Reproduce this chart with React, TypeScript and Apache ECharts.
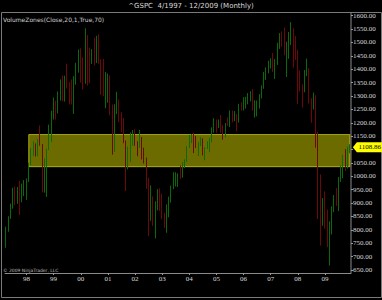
import React, { useEffect, useRef } from "react";
import * as echarts from "echarts";

const firstYear = 1997;
const firstMonth = 4;
const monthCount = 153;
const categories: string[] = [];
for (let i = 0; i < monthCount; i++) {
  const m = firstMonth - 1 + i;
  const y = firstYear + Math.floor(m / 12);
  const mm = (m % 12) + 1;
  categories.push(`${y}-${mm < 10 ? "0" + mm : mm}`);
}

const opens = [
  757, 801, 848, 885, 954, 899, 947, 915, 955,
  970, 980, 1049, 1102, 1112, 1091, 1134, 1121, 957, 1017, 1099, 1164,
  1229, 1280, 1238, 1286, 1335, 1302, 1373, 1329, 1320, 1283, 1363, 1389,
  1469, 1394, 1366, 1499, 1452, 1421, 1455, 1431, 1518, 1437, 1429, 1315,
  1320, 1366, 1240, 1160, 1249, 1256, 1224, 1211, 1134, 1041, 1060, 1139,
  1148, 1130, 1107, 1147, 1077, 1067, 990, 912, 916, 815, 886, 936,
  880, 856, 841, 848, 917, 964, 975, 990, 1008, 996, 1051, 1058,
  1112, 1131, 1145, 1126, 1107, 1121, 1141, 1102, 1104, 1115, 1130, 1174,
  1212, 1181, 1204, 1181, 1157, 1192, 1191, 1234, 1220, 1229, 1207, 1249,
  1248, 1280, 1281, 1295, 1311, 1270, 1270, 1277, 1304, 1336, 1378, 1401,
  1418, 1438, 1407, 1421, 1482, 1531, 1503, 1455, 1474, 1527, 1549, 1481,
  1468, 1379, 1331, 1323, 1386, 1400, 1280, 1267, 1283, 1166, 969, 896,
  903, 826, 735, 798, 873, 923, 919, 987, 1021, 1057, 1036, 1096,
];
const highs = [
  812, 851, 898, 957, 961, 960, 983, 973, 986,
  992, 1051, 1106, 1131, 1123, 1139, 1190, 1121, 1066, 1103, 1193, 1245,
  1294, 1283, 1317, 1362, 1376, 1376, 1421, 1352, 1362, 1374, 1424, 1474,
  1478, 1445, 1553, 1528, 1481, 1475, 1518, 1525, 1531, 1437, 1438, 1390,
  1384, 1377, 1268, 1269, 1316, 1287, 1240, 1218, 1134, 1111, 1164, 1173,
  1176, 1131, 1173, 1147, 1107, 1070, 994, 966, 925, 907, 952, 955,
  935, 864, 895, 924, 965, 1015, 1015, 1011, 1040, 1053, 1063, 1112,
  1155, 1158, 1163, 1151, 1128, 1146, 1142, 1109, 1131, 1143, 1183, 1217,
  1212, 1212, 1229, 1192, 1199, 1220, 1246, 1246, 1244, 1233, 1271, 1276,
  1295, 1297, 1311, 1318, 1326, 1284, 1283, 1307, 1340, 1390, 1407, 1432,
  1441, 1461, 1438, 1499, 1535, 1541, 1556, 1503, 1539, 1576, 1553, 1524,
  1472, 1396, 1344, 1397, 1440, 1404, 1292, 1313, 1303, 1167, 1007, 919,
  944, 876, 832, 888, 930, 956, 997, 1040, 1080, 1101, 1111, 1120,
];
const lows = [
  733, 793, 841, 879, 893, 897, 855, 903, 926,
  912, 979, 1042, 1076, 1074, 1075, 1114, 940, 939, 923, 1098, 1129,
  1212, 1212, 1235, 1283, 1281, 1279, 1328, 1268, 1268, 1233, 1342, 1387,
  1350, 1325, 1346, 1339, 1348, 1420, 1415, 1423, 1420, 1305, 1299, 1254,
  1275, 1228, 1081, 1091, 1232, 1203, 1165, 1124, 945, 1026, 1054, 1114,
  1114, 1075, 1106, 1063, 1048, 953, 776, 834, 815, 768, 873, 871,
  840, 807, 789, 847, 902, 952, 962, 960, 990, 995, 1031, 1054,
  1106, 1124, 1087, 1106, 1076, 1113, 1078, 1060, 1102, 1090, 1127, 1163,
  1163, 1180, 1163, 1137, 1146, 1188, 1184, 1202, 1206, 1168, 1201, 1246,
  1246, 1253, 1269, 1280, 1245, 1219, 1224, 1253, 1291, 1327, 1360, 1385,
  1403, 1390, 1364, 1416, 1476, 1484, 1452, 1371, 1439, 1490, 1406, 1435,
  1270, 1317, 1257, 1314, 1374, 1272, 1200, 1249, 1107, 840, 741, 815,
  805, 735, 667, 783, 866, 889, 870, 979, 993, 1020, 1029, 1086,
];
const closes = [
  801, 848, 885, 954, 899, 947, 915, 955, 970,
  980, 1049, 1102, 1112, 1091, 1134, 1121, 957, 1017, 1099, 1164, 1229,
  1280, 1238, 1286, 1335, 1302, 1373, 1329, 1320, 1283, 1363, 1389, 1469,
  1394, 1366, 1499, 1452, 1421, 1455, 1431, 1518, 1437, 1429, 1315, 1320,
  1366, 1240, 1160, 1249, 1256, 1224, 1211, 1134, 1041, 1060, 1139, 1148,
  1130, 1107, 1147, 1077, 1067, 990, 912, 916, 815, 886, 936, 880,
  856, 841, 848, 917, 964, 975, 990, 1008, 996, 1051, 1058, 1112,
  1131, 1145, 1126, 1107, 1121, 1141, 1102, 1104, 1115, 1130, 1174, 1212,
  1181, 1204, 1181, 1157, 1192, 1191, 1234, 1220, 1229, 1207, 1249, 1248,
  1280, 1281, 1295, 1311, 1270, 1270, 1277, 1304, 1336, 1378, 1401, 1418,
  1438, 1407, 1421, 1482, 1531, 1503, 1455, 1474, 1527, 1549, 1481, 1468,
  1379, 1331, 1323, 1386, 1400, 1280, 1267, 1283, 1166, 969, 896, 903,
  826, 735, 798, 873, 919, 919, 987, 1021, 1057, 1036, 1096, 1108.86,
];

const zoneLow = 1036;
const zoneHigh = 1156;
const zoneStart = "1998-02";
const yMin = 650;
const yMax = 1600;
const yStep = 50;
const titleText = "^GSPC  4/1997 - 12/2009 (Monthly)";
const indicatorText = "VolumeZones(Close,20,1,True,70)";
const copyrightText = "\u00a9 2009 NinjaTrader, LLC";

export default function App() {
  const ref = useRef<HTMLDivElement>(null);
  useEffect(() => {
    if (!ref.current) return;
    const chart = echarts.init(ref.current, null, { renderer: "svg" });
    const candles = categories.map((_, i) => [opens[i], closes[i], lows[i], highs[i]]);
    const lastIdx = categories.length - 1;
    const lastClose = closes[lastIdx];
    const fontFamily = "'Liberation Serif', serif";
    chart.setOption({
      animation: false,
      backgroundColor: "#000000",
      grid: { left: 5, right: 31, top: 15.7, bottom: 30 },
      xAxis: {
        type: "category",
        data: categories,
        boundaryGap: true,
        offset: 3,
        axisLine: { show: true, lineStyle: { color: "#8a8a8a", width: 1 } },
        axisTick: {
          show: true,
          alignWithLabel: true,
          length: 2,
          interval: (_i: number, v: string) => v.endsWith("-01"),
          lineStyle: { color: "#9a9a9a" },
        },
        axisLabel: {
          interval: (_i: number, v: string) => v.endsWith("-01"),
          formatter: (v: string) => v.slice(2, 4),
          color: "#d8d8d8",
          fontSize: 7,
          margin: 2,
          fontFamily,
        },
        splitLine: { show: false },
      },
      yAxis: {
        type: "value",
        position: "right",
        min: yMin,
        max: yMax,
        interval: yStep,
        scale: false,
        axisLine: { show: false },
        axisTick: { show: true, length: 2, lineStyle: { color: "#9a9a9a" } },
        axisLabel: {
          color: "#d8d8d8",
          fontSize: 7,
          margin: 2,
          fontFamily,
          formatter: (v: number) => (Math.abs(v - lastClose) < 12 ? "" : v.toFixed(2)),
        },
        splitLine: { show: false },
      },
      series: [
        {
          type: "candlestick",
          data: candles,
          barWidth: 1,
          z: 2,
          itemStyle: {
            color: "#0e800e",
            color0: "#860a0a",
            borderColor: "#0a6a0a",
            borderColor0: "#6e0707",
            borderWidth: 1,
          },
          markPoint: {
            symbol: "path://M0,5 L4,0 L30,0 L30,10 L4,10 Z",
            symbolSize: [30, 10],
            symbolKeepAspect: false,
            symbolOffset: [18, 0],
            itemStyle: { color: "#ffff00" },
            label: {
              show: true,
              position: "inside",
              offset: [2, 0],
              color: "#000000",
              fontSize: 7,
              fontFamily,
              formatter: () => lastClose.toFixed(2),
            },
            data: [{ coord: [categories[lastIdx], lastClose] }],
          },
        },
        {
          type: "line",
          data: [],
          z: 5,
          markArea: {
            silent: true,
            itemStyle: {
              color: "rgba(255,255,0,0.42)",
              borderColor: "rgba(255,255,40,0.55)",
              borderWidth: 1,
            },
            data: [
              [
                { xAxis: zoneStart, yAxis: zoneHigh },
                { xAxis: categories[lastIdx], yAxis: zoneLow },
              ],
            ],
          },
        },
      ],
      graphic: [
        {
          type: "rect",
          shape: { x: 1.5, y: 12.5, width: 380, height: 285 },
          style: { fill: "none", stroke: "#7a7a7a", lineWidth: 1 },
          silent: true,
        },
        {
          type: "line",
          shape: { x1: 351, y1: 12.5, x2: 351, y2: 273 },
          style: { stroke: "#8a8a8a", lineWidth: 1 },
          silent: true,
        },
        {
          type: "text",
          x: 191,
          y: 6,
          style: {
            text: titleText,
            fill: "#d8d8d8",
            fontSize: 7,
            fontFamily: "'DejaVu Sans', sans-serif",
            align: "center",
            verticalAlign: "middle",
          },
        },
        {
          type: "text",
          x: 3,
          y: 19,
          style: {
            text: indicatorText,
            fill: "#d0d0d0",
            fontSize: 6,
            fontFamily: "'DejaVu Sans', sans-serif",
            align: "left",
            verticalAlign: "middle",
          },
        },
        {
          type: "text",
          x: 3,
          y: 270,
          style: {
            text: copyrightText,
            fill: "#bdbdbd",
            fontSize: 4.5,
            fontFamily: "'DejaVu Sans', sans-serif",
            align: "left",
            verticalAlign: "middle",
          },
        },
      ],
    });
    return () => chart.dispose();
  }, []);
  return (
    <div
      ref={ref}
      style={{ position: "fixed", left: 0, top: 0, width: 382, height: 300, background: "#000" }}
    />
  );
}
